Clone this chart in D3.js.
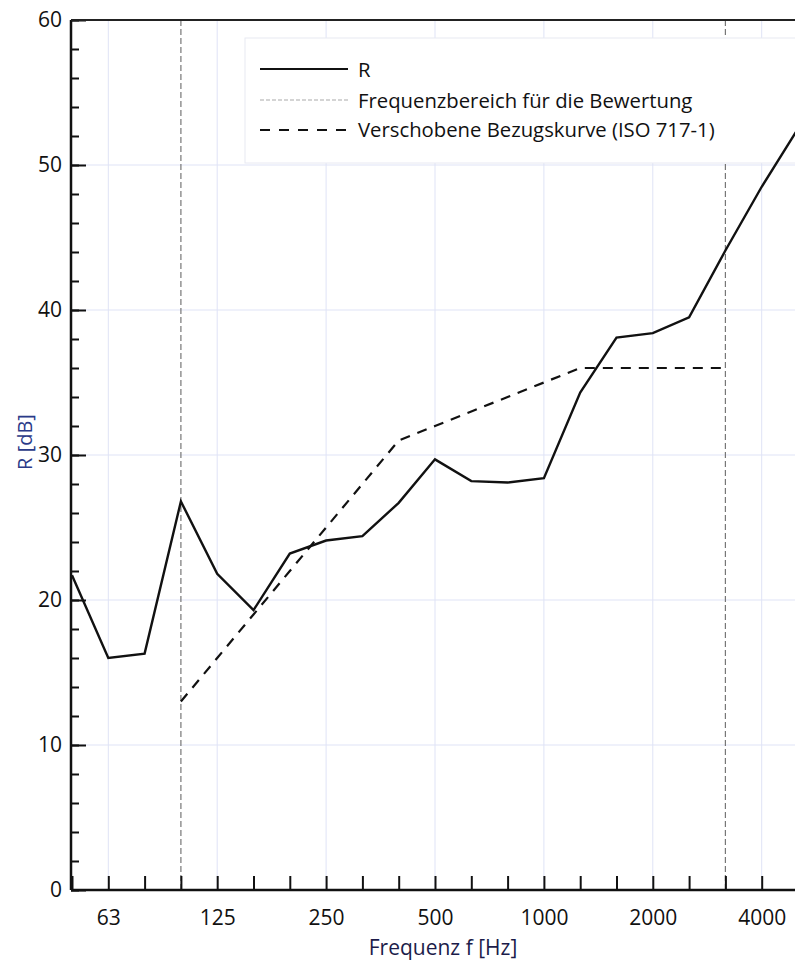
<!DOCTYPE html>
<html>
<head>
<meta charset="utf-8">
<script src="https://cdn.jsdelivr.net/npm/d3@7"></script>
<style>
  body { margin: 0; background: #fff; }
  text { font-family: "Open Sans", "Noto Sans", sans-serif; }
</style>
</head>
<body>
<div id="chart"></div>
<script>
// third-octave bands, 50 Hz .. 5000 Hz
var bands = ["50","63","80","100","125","160","200","250","315","400","500","630","800","1000","1250","1600","2000","2500","3150","4000","5000"];
var labelBands = ["63","125","250","500","1000","2000","4000"];

// measured sound reduction index R [dB]
var rValues = [21.7, 16.0, 16.3, 26.8, 21.8, 19.3, 23.2, 24.1, 24.4, 26.7, 29.7, 28.2, 28.1, 28.4, 34.3, 38.1, 38.4, 39.5, 44.1, 48.5, 52.5];

// shifted reference curve (ISO 717-1), 100 .. 3150 Hz
var refBands = ["100","125","160","200","250","315","400","500","630","800","1000","1250","1600","2000","2500","3150"];
var refValues = [13, 16, 19, 22, 25, 28, 31, 32, 33, 34, 35, 36, 36, 36, 36, 36];

var rangeBands = ["100", "3150"];

var yMajor = [0, 10, 20, 30, 40, 50, 60];

var legendItems = ["R", "Frequenzbereich für die Bewertung", "Verschobene Bezugskurve (ISO 717-1)"];

function init() {
  var w = 795, h = 962;
  var left = 71, top = 20, bottom = 890;

  var svg = d3.select("#chart").append("svg")
    .attr("width", w).attr("height", h);

  var x = d3.scalePoint().domain(bands).range([72, 798]);
  var y = d3.scaleLinear().domain([0, 60]).range([bottom, top]);

  // grid
  var grid = svg.append("g").attr("stroke", "#dfe3f6").attr("stroke-width", 1);
  grid.selectAll("line.v").data(labelBands).enter().append("line")
    .attr("x1", function(d){ return x(d); }).attr("x2", function(d){ return x(d); })
    .attr("y1", top).attr("y2", bottom);
  grid.selectAll("line.h").data(yMajor.slice(1, -1)).enter().append("line")
    .attr("x1", left).attr("x2", w)
    .attr("y1", function(d){ return y(d); }).attr("y2", function(d){ return y(d); });

  // frequency range lines
  svg.selectAll("line.range").data(rangeBands).enter().append("line")
    .attr("x1", function(d){ return x(d); }).attr("x2", function(d){ return x(d); })
    .attr("y1", top).attr("y2", bottom)
    .attr("stroke", "#777").attr("stroke-width", 1.2)
    .attr("stroke-dasharray", "6,3");

  // legend box
  var lg = svg.append("g");
  lg.append("rect").attr("x", 245).attr("y", 38).attr("width", 560).attr("height", 125)
    .attr("fill", "#fff").attr("stroke", "#e8e9f2").attr("stroke-width", 1);
  var rows = [70, 101, 130];
  lg.append("line").attr("x1", 260).attr("x2", 348).attr("y1", rows[0] - 1).attr("y2", rows[0] - 1)
    .attr("stroke", "#111").attr("stroke-width", 2.2);
  lg.append("line").attr("x1", 260).attr("x2", 348).attr("y1", rows[1] - 1).attr("y2", rows[1] - 1)
    .attr("stroke", "#aaa").attr("stroke-width", 1.2).attr("stroke-dasharray", "4,2");
  lg.append("line").attr("x1", 260).attr("x2", 348).attr("y1", rows[2]).attr("y2", rows[2])
    .attr("stroke", "#111").attr("stroke-width", 2.2).attr("stroke-dasharray", "10,9");
  lg.selectAll("text").data(legendItems).enter().append("text")
    .attr("x", 358).attr("y", function(d, i){ return rows[i]; })
    .attr("dy", "0.36em")
    .attr("font-size", 20.3).attr("fill", "#111")
    .text(function(d){ return d; });

  // reference curve
  var line = d3.line()
    .x(function(d){ return x(d[0]); })
    .y(function(d){ return y(d[1]); });

  svg.append("path")
    .datum(refBands.map(function(b, i){ return [b, refValues[i]]; }))
    .attr("d", line).attr("fill", "none")
    .attr("stroke", "#111").attr("stroke-width", 2.2)
    .attr("stroke-dasharray", "10,8");

  // measured R
  svg.append("path")
    .datum(bands.map(function(b, i){ return [b, rValues[i]]; }))
    .attr("d", line).attr("fill", "none")
    .attr("stroke", "#111").attr("stroke-width", 2.4)
    .attr("stroke-linejoin", "miter");

  // axes
  var xAxis = d3.axisBottom(x).tickSize(-14).tickPadding(20)
    .tickFormat(function(d){ return labelBands.indexOf(d) >= 0 ? d : ""; });
  var gx = svg.append("g").attr("transform", "translate(0," + bottom + ")").call(xAxis);
  gx.select(".domain").remove();
  gx.selectAll(".tick line").attr("stroke", "#111").attr("stroke-width", 2);
  gx.selectAll("text").attr("font-size", 21).attr("fill", "#111");

  var yMinor = d3.axisLeft(y).tickValues(d3.range(0, 61, 2)).tickSize(-8).tickFormat("");
  var gym = svg.append("g").attr("transform", "translate(" + left + ",0)").call(yMinor);
  gym.select(".domain").remove();
  gym.selectAll(".tick line").attr("stroke", "#111").attr("stroke-width", 2);

  var yAxis = d3.axisLeft(y).tickValues(yMajor).tickSize(-15).tickPadding(9);
  var gy = svg.append("g").attr("transform", "translate(" + left + ",0)").call(yAxis);
  gy.select(".domain").remove();
  gy.selectAll(".tick line").attr("stroke", "#111").attr("stroke-width", 2);
  gy.selectAll("text").attr("font-size", 21).attr("fill", "#111");

  // frame lines
  svg.append("line").attr("x1", left).attr("x2", w).attr("y1", bottom).attr("y2", bottom)
    .attr("stroke", "#111").attr("stroke-width", 2.5);
  svg.append("line").attr("x1", left).attr("x2", left).attr("y1", top).attr("y2", bottom)
    .attr("stroke", "#111").attr("stroke-width", 2.5);
  svg.append("line").attr("x1", left).attr("x2", w).attr("y1", top).attr("y2", top)
    .attr("stroke", "#222").attr("stroke-width", 2);

  // axis titles
  svg.append("text").attr("x", 443).attr("y", 955)
    .attr("text-anchor", "middle").attr("font-size", 21).attr("fill", "#1c1c4a")
    .text("Frequenz f [Hz]");
  svg.append("text")
    .attr("transform", "translate(32,442) rotate(-90)")
    .attr("text-anchor", "middle").attr("font-size", 20).attr("fill", "#2a3a88")
    .text("R [dB]");
}

window.onload = init;
</script>
</body>
</html>
